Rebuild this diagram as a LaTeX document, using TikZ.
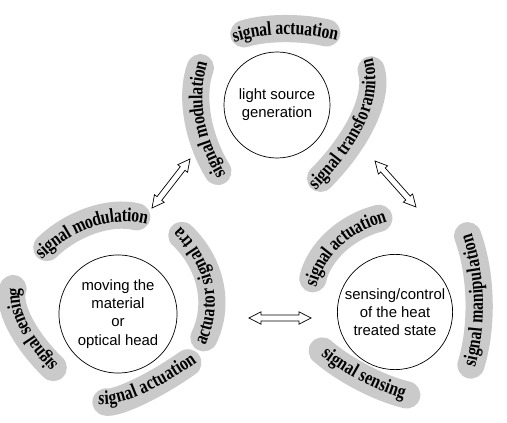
\documentclass[tikz,border=0pt]{standalone}
\usepackage{fontspec}
\setmainfont{Liberation Sans}
\newfontfamily\bandfont[FakeStretch=0.8]{Liberation Serif}
\usetikzlibrary{calc, decorations.text}

\definecolor{bandgray}{RGB}{202,202,202}
\newcommand\bandstyle{\bandfont\bfseries\fontsize{14}{16}\selectfont}

% grey band through three points, with its text
\newcommand\band[4]{%
  \coordinate (q) at ($2*(#2)-0.5*(#1)-0.5*(#3)$);
  \draw[band, postaction={bandtext={#4}}]
    (#1) .. controls ($(#1)!2/3!(q)$) and ($(#3)!2/3!(q)$) .. (#3);}

% hollow double arrow between two named coordinates
\newcommand\hollowarrow[2]{%
  \draw[hollow] let \p1=($(#2)-(#1)$), \n1={atan2(\y1,\x1)} in
    (#1) -- ($(#1)+(\n1:0.3cm)+(\n1+90:0.155cm)$)
    -- ($(#1)+(\n1:0.3cm)+(\n1+90:0.075cm)$)
    -- ($(#2)+(\n1:-0.3cm)+(\n1+90:0.075cm)$)
    -- ($(#2)+(\n1:-0.3cm)+(\n1+90:0.155cm)$)
    -- (#2)
    -- ($(#2)+(\n1:-0.3cm)+(\n1-90:0.155cm)$)
    -- ($(#2)+(\n1:-0.3cm)+(\n1-90:0.075cm)$)
    -- ($(#1)+(\n1:0.3cm)+(\n1-90:0.075cm)$)
    -- ($(#1)+(\n1:0.3cm)+(\n1-90:0.155cm)$)
    -- cycle;}

\begin{document}
\begin{tikzpicture}[
    x=0.025cm, y=0.025cm,
    % ====================
    % STYLES
    % ====================
    stage/.style={
        circle, draw=black, fill=white, line width=0.5pt,
        align=center, font=\fontsize{10.6}{13}\selectfont, inner sep=0pt
    },
    band/.style={
        draw=bandgray, line width=0.68cm, line cap=round,
        shorten <=0.34cm, shorten >=0.34cm
    },
    bandtext/.style={
        draw=none, shorten <=0pt, shorten >=0pt,
        decorate, decoration={text along path, text={|\bandstyle|#1},
        text align=center, raise=-3.5pt, text color=black}
    },
    hollow/.style={
        draw=black, fill=white, line width=0.5pt, line join=miter
    }
]
\useasboundingbox (0,0) rectangle (507,422);

% ====================
% STAGES
% ====================
\node[stage, minimum size=2.65cm] (source) at (277,317) {light source\\generation};
\node[stage, minimum size=2.95cm] (motion) at (118,108) {moving the\\material\\or\\optical head};
\node[stage, minimum size=2.88cm] (control) at (395,110) {sensing/control\\of the heat\\treated state};

% ====================
% BANDS
% ====================
\begin{scope}[shift={(source.center)}]
    \band{-46,67}{6,75.5}{63,69}{signal actuation}
    \band{-52,-78}{-78,-12}{-72,50}{signal modulation}
    \band{34,-83}{85,-13}{90,48}{signal transforamiton}
\end{scope}

\begin{scope}[shift={(motion.center)}]
    \band{-81,57}{-26,92}{32,94}{signal modulation}
    \band{80,-36}{90,29}{54,88}{actuator signal tra}
    \band{-55,-63}{-97,-8}{-100,38}{signal sensing}
    \band{-25,-84}{17,-78}{81,-41}{signal actuation}
\end{scope}

\begin{scope}[shift={(control.center)}]
    \band{-85,20}{-58,69}{-3,97}{signal actuation}
    \band{72,-66}{83,12}{68,89}{signal manipulation}
    \band{-83,-30}{-32,-65}{25,-86}{signal sensing}
\end{scope}

% ====================
% ARROWS
% ====================
\coordinate (src-l) at (190,263);
\coordinate (mot-t) at (152,214);
\coordinate (src-r) at (375,261);
\coordinate (ctl-t) at (416,215);
\coordinate (mot-r) at (249,104);
\coordinate (ctl-l) at (311,104);

\hollowarrow{mot-t}{src-l}
\hollowarrow{src-r}{ctl-t}
\hollowarrow{mot-r}{ctl-l}

\end{tikzpicture}
\end{document}
